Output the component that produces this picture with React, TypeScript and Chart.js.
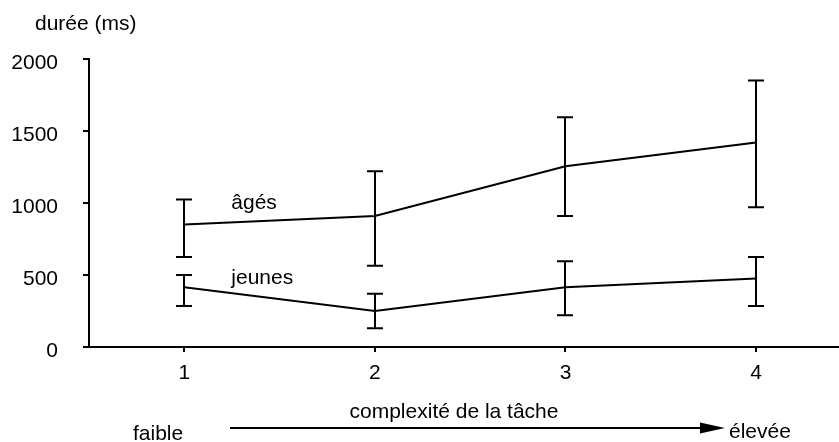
import { useEffect, useRef } from "react";
import { Chart, registerables } from "chart.js";

Chart.register(...registerables);

// Task complexity levels (x) and mean durations in ms with error-bar bounds
const complexity = [1, 2, 3, 4];
const complexityLabels = ["1", "2", "3", "4"];
const yTicks = [0, 500, 1000, 1500, 2000];

const agesMean = [850, 910, 1255, 1420];
const agesLow = [625, 565, 910, 970];
const agesHigh = [1025, 1220, 1595, 1850];

const jeunesMean = [415, 250, 415, 475];
const jeunesLow = [285, 130, 220, 285];
const jeunesHigh = [500, 370, 595, 625];

const FONT = "'Liberation Sans', Arial, Helvetica, sans-serif";
const FONT_SIZE = 21;

const errorBarsPlugin = {
  id: "errorBars",
  afterDatasetsDraw(chart: any) {
    const { ctx, scales } = chart;
    const x = scales.x;
    const y = scales.y;
    ctx.save();
    ctx.strokeStyle = "#000";
    ctx.lineWidth = 2;
    const groups = [
      [agesLow, agesHigh],
      [jeunesLow, jeunesHigh],
    ];
    groups.forEach(([lo, hi]) => {
      complexity.forEach((c, i) => {
        const px = Math.round(x.getPixelForValue(c));
        const top = y.getPixelForValue(hi[i]);
        const bot = y.getPixelForValue(lo[i]);
        ctx.beginPath();
        ctx.moveTo(px, top);
        ctx.lineTo(px, bot);
        ctx.moveTo(px - 8, top);
        ctx.lineTo(px + 8, top);
        ctx.moveTo(px - 8, bot);
        ctx.lineTo(px + 8, bot);
        ctx.stroke();
      });
    });
    ctx.restore();
  },
};

const annotationsPlugin = {
  id: "annotations",
  afterDraw(chart: any) {
    const { ctx, scales } = chart;
    const x = scales.x;
    const y = scales.y;
    ctx.save();
    ctx.fillStyle = "#000";
    ctx.strokeStyle = "#000";
    ctx.font = `${FONT_SIZE}px ${FONT}`;
    ctx.textBaseline = "middle";

    // axis unit
    ctx.textAlign = "left";
    ctx.fillText("durée (ms)", 35, 24);

    // series names
    const labelX = x.getPixelForValue(1) + 47;
    ctx.fillText("âgés", labelX, y.getPixelForValue(1000));
    ctx.fillText("jeunes", labelX, y.getPixelForValue(480));

    // complexity arrow
    const arrowY = 428;
    const arrowStart = 230;
    const arrowTip = 725;
    ctx.lineWidth = 2;
    ctx.beginPath();
    ctx.moveTo(arrowStart, arrowY);
    ctx.lineTo(arrowTip - 20, arrowY);
    ctx.stroke();
    ctx.beginPath();
    ctx.moveTo(arrowTip, arrowY);
    ctx.lineTo(arrowTip - 25, arrowY - 5.5);
    ctx.lineTo(arrowTip - 25, arrowY + 5.5);
    ctx.closePath();
    ctx.fill();

    ctx.textAlign = "center";
    ctx.textBaseline = "alphabetic";
    ctx.fillText("complexité de la tâche", 454, 418);

    ctx.textBaseline = "middle";
    ctx.textAlign = "left";
    ctx.fillText("faible", 133, 434);
    ctx.fillText("élevée", 729, 432);
    ctx.restore();
  },
};

export default function App() {
  const canvasRef = useRef<HTMLCanvasElement | null>(null);

  useEffect(() => {
    if (!canvasRef.current) return;
    const chart = new Chart(canvasRef.current, {
      type: "line",
      data: {
        datasets: [
          {
            label: "âgés",
            data: complexity.map((c, i) => ({ x: c, y: agesMean[i] })),
            borderColor: "#000",
            borderWidth: 2,
            pointRadius: 0,
            tension: 0,
          },
          {
            label: "jeunes",
            data: complexity.map((c, i) => ({ x: c, y: jeunesMean[i] })),
            borderColor: "#000",
            borderWidth: 2,
            pointRadius: 0,
            tension: 0,
          },
        ],
      },
      options: {
        animation: false,
        responsive: false,
        devicePixelRatio: 1,
        layout: { padding: { top: 59, left: 0, right: 0, bottom: 0 } },
        plugins: {
          legend: { display: false },
          tooltip: { enabled: false },
          title: { display: false },
        },
        scales: {
          x: {
            type: "linear",
            min: 0.5,
            max: 4.435,
            afterBuildTicks: (scale: any) => {
              scale.ticks = complexity.map((v) => ({ value: v }));
            },
            afterFit: (scale: any) => {
              scale.height = 95;
            },
            border: { display: true, color: "#000", width: 2 },
            grid: {
              drawOnChartArea: false,
              drawTicks: true,
              tickLength: 5,
              color: "#000",
              lineWidth: 2,
            },
            ticks: {
              color: "#000",
              font: { family: FONT, size: FONT_SIZE },
              padding: 9,
              maxRotation: 0,
              callback: (v: any) => complexityLabels[complexity.indexOf(Number(v))] ?? "",
            },
          },
          y: {
            type: "linear",
            min: 0,
            max: 2000,
            afterBuildTicks: (scale: any) => {
              scale.ticks = yTicks.map((v) => ({ value: v }));
            },
            afterFit: (scale: any) => {
              scale.width = 89;
            },
            border: { display: true, color: "#000", width: 2 },
            grid: {
              drawOnChartArea: false,
              drawTicks: true,
              tickLength: 6,
              color: "#000",
              lineWidth: 2,
            },
            ticks: {
              color: "#000",
              font: { family: FONT, size: FONT_SIZE },
              padding: 25,
              labelOffset: 4,
              callback: (v: any) => String(v),
            },
          },
        },
      },
      plugins: [errorBarsPlugin, annotationsPlugin],
    });
    return () => chart.destroy();
  }, []);

  return (
    <div style={{ position: "absolute", left: 0, top: 0, width: 839, height: 442, background: "#fff" }}>
      <canvas ref={canvasRef} width={839} height={442} style={{ display: "block" }} />
    </div>
  );
}
